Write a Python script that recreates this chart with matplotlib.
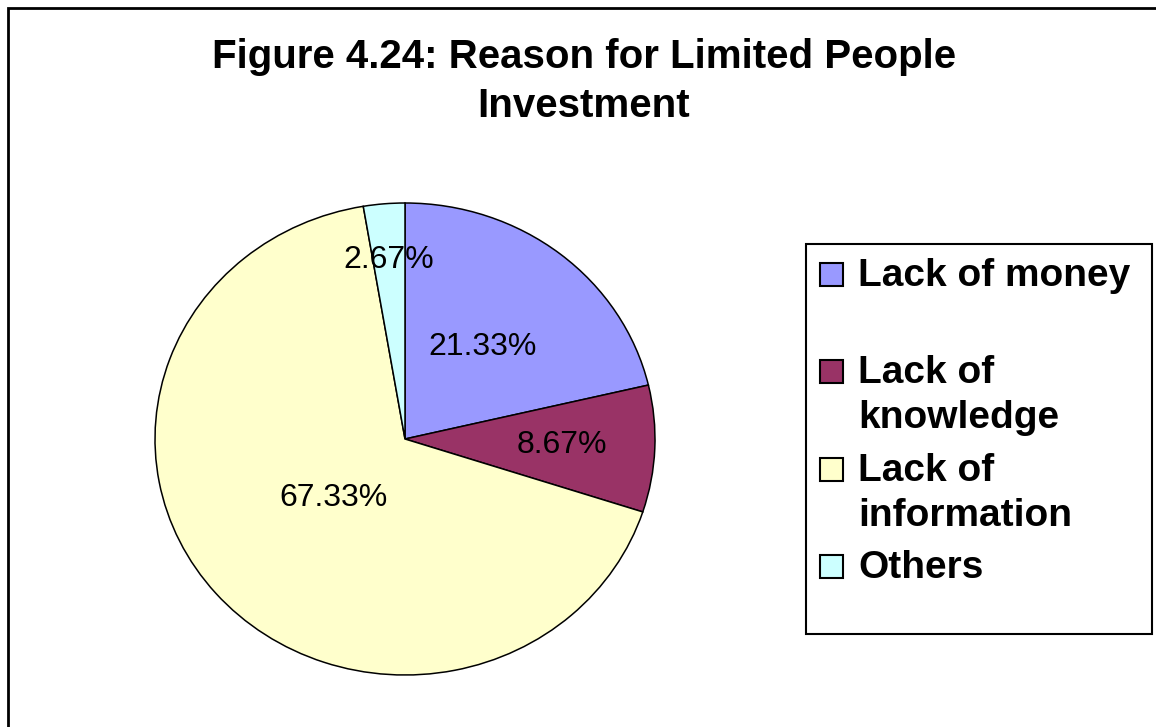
import matplotlib.pyplot as plt
from matplotlib.patches import Rectangle
import numpy as np

plt.rcParams['font.family'] = ['Liberation Sans', 'DejaVu Sans']

W, H = 1156, 727

reasons = ["Lack of money", "Lack of\nknowledge", "Lack of\ninformation", "Others"]
shares = [21.33, 8.67, 67.33, 2.67]
colors = ["#9999FF", "#993366", "#FFFFCC", "#CCFFFF"]
# how far out (as a fraction of the radius) each percentage sits
label_r = [0.50, 0.63, 0.38, 0.76]

title_lines = ["Figure 4.24: Reason for Limited People", "Investment"]


def fx(px):
    return px / W


def fy(py):
    return 1 - py / H


fig = plt.figure(figsize=(W / 100, H / 100), dpi=100)

# outer chart frame (runs off the right and bottom edges)
fig.patches.append(Rectangle((fx(8), fy(740)), fx(1160) - fx(8), fy(8) - fy(740),
                             transform=fig.transFigure, fill=False,
                             edgecolor='black', linewidth=2))

for i, line in enumerate(title_lines):
    fig.text(fx(584), fy(68 + 49 * i), line, ha='center', va='baseline',
             fontsize=29, fontweight='bold')

# pie, slightly wider than tall
ax = fig.add_axes([fx(155), fy(675), fx(655) - fx(155), fy(203) - fy(675)])
wedges, _ = ax.pie(shares, colors=colors, startangle=90, counterclock=False,
                   radius=1, wedgeprops=dict(edgecolor='black', linewidth=1.1))
ax.set_aspect('auto')
ax.set_xlim(-1, 1)
ax.set_ylim(-1, 1)
ax.axis('off')

for w, val, r in zip(wedges, shares, label_r):
    mid = np.deg2rad((w.theta1 + w.theta2) / 2)
    ax.text(r * np.cos(mid), r * np.sin(mid), f"{val:.2f}%",
            ha='center', va='center', fontsize=23)

# legend box
fig.patches.append(Rectangle((fx(806), fy(634)), fx(1152) - fx(806), fy(244) - fy(634),
                             transform=fig.transFigure, fill=False,
                             edgecolor='black', linewidth=1.5))

for i, (name, c) in enumerate(zip(reasons, colors)):
    base = 286 + 97.3 * i
    fig.patches.append(Rectangle((fx(820), fy(base)), fx(843) - fx(820), fy(base - 23) - fy(base),
                                 transform=fig.transFigure, facecolor=c,
                                 edgecolor='black', linewidth=1.5))
    for j, part in enumerate(name.split("\n")):
        fig.text(fx(858), fy(base + 45 * j), part, ha='left', va='baseline',
                 fontsize=28, fontweight='bold')

fig.savefig("out.png", dpi=100)
